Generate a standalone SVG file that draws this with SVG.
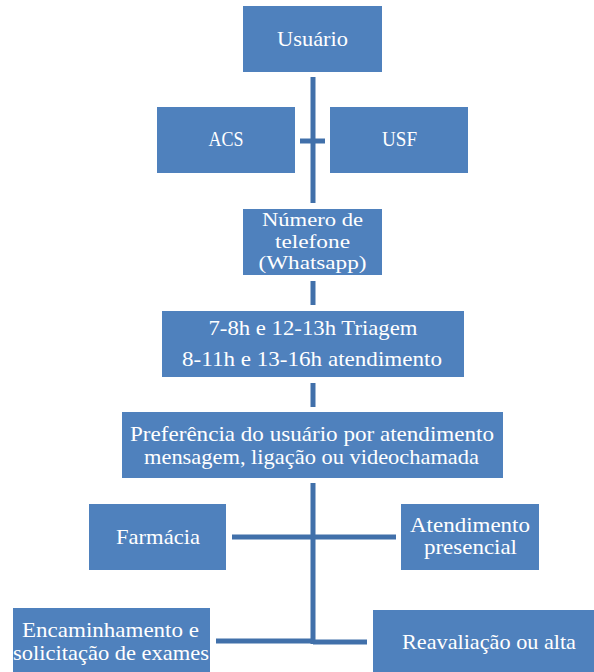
<svg xmlns="http://www.w3.org/2000/svg" width="594" height="672" viewBox="0 0 594 672">
<style>
.box{fill:#4F81BD;}
.t{font-family:"Liberation Serif","DejaVu Serif",serif;font-size:21px;fill:#FFFFFF;text-anchor:middle;}
.s{font-size:19px;}
.ln{stroke:#4170AA;stroke-width:5;fill:none;stroke-linecap:butt;}
</style>
<rect width="594" height="672" fill="#FFFFFF"/>
<g id="connectors">
<line class="ln" x1="313" y1="77" x2="313" y2="203"/>
<line class="ln" x1="300" y1="141" x2="325" y2="141"/>
<line class="ln" x1="313" y1="281" x2="313" y2="305"/>
<line class="ln" x1="313" y1="383" x2="313" y2="407"/>
<line class="ln" x1="313" y1="483" x2="313" y2="644"/>
<line class="ln" x1="232" y1="537" x2="396" y2="537"/>
<line class="ln" x1="216" y1="641" x2="313" y2="641"/>
<line class="ln" x1="313" y1="642" x2="367" y2="642"/>
</g>
<g id="usuario"><rect class="box" x="243" y="6" width="139" height="66"/><text class="t" x="312.5" y="46" textLength="71" lengthAdjust="spacingAndGlyphs">Usuário</text></g>
<g id="acs"><rect class="box" x="157" y="107" width="138" height="66"/><text class="t" x="226" y="146" textLength="35" lengthAdjust="spacingAndGlyphs">ACS</text></g>
<g id="usf"><rect class="box" x="330" y="107" width="138" height="66"/><text class="t" x="399.5" y="146" textLength="35" lengthAdjust="spacingAndGlyphs">USF</text></g>
<g id="numero"><rect class="box" x="243" y="209" width="139" height="66"/>
<text class="t s" x="312.5" y="226" textLength="101" lengthAdjust="spacingAndGlyphs">Número de</text>
<text class="t s" x="312.5" y="248" textLength="75" lengthAdjust="spacingAndGlyphs">telefone</text>
<text class="t s" x="312.5" y="269" textLength="108" lengthAdjust="spacingAndGlyphs">(Whatsapp)</text></g>
<g id="horarios"><rect class="box" x="162" y="311" width="302" height="66"/>
<text class="t" x="313" y="335" textLength="209" lengthAdjust="spacingAndGlyphs">7-8h e 12-13h Triagem</text>
<text class="t" x="312" y="366" textLength="260" lengthAdjust="spacingAndGlyphs">8-11h e 13-16h atendimento</text></g>
<g id="preferencia"><rect class="box" x="122" y="412" width="381" height="66"/>
<text class="t" x="312" y="441" textLength="364" lengthAdjust="spacingAndGlyphs">Preferência do usuário por atendimento</text>
<text class="t" x="311.5" y="464" textLength="335" lengthAdjust="spacingAndGlyphs">mensagem, ligação ou videochamada</text></g>
<g id="farmacia"><rect class="box" x="89" y="504" width="137" height="66"/><text class="t" x="158" y="544" textLength="84" lengthAdjust="spacingAndGlyphs">Farmácia</text></g>
<g id="presencial"><rect class="box" x="401" y="504" width="138" height="66"/>
<text class="t" x="470" y="532" textLength="120" lengthAdjust="spacingAndGlyphs">Atendimento</text>
<text class="t" x="470.5" y="554" textLength="93" lengthAdjust="spacingAndGlyphs">presencial</text></g>
<g id="encaminhamento"><rect class="box" x="13" y="608" width="197" height="64"/>
<text class="t" x="110.5" y="637" textLength="177" lengthAdjust="spacingAndGlyphs">Encaminhamento e</text>
<text class="t" x="111" y="660" textLength="196" lengthAdjust="spacingAndGlyphs">solicitação de exames</text></g>
<g id="reavaliacao"><rect class="box" x="373" y="610" width="221" height="62"/><text class="t" x="489" y="649" textLength="174" lengthAdjust="spacingAndGlyphs">Reavaliação ou alta</text></g>
</svg>
